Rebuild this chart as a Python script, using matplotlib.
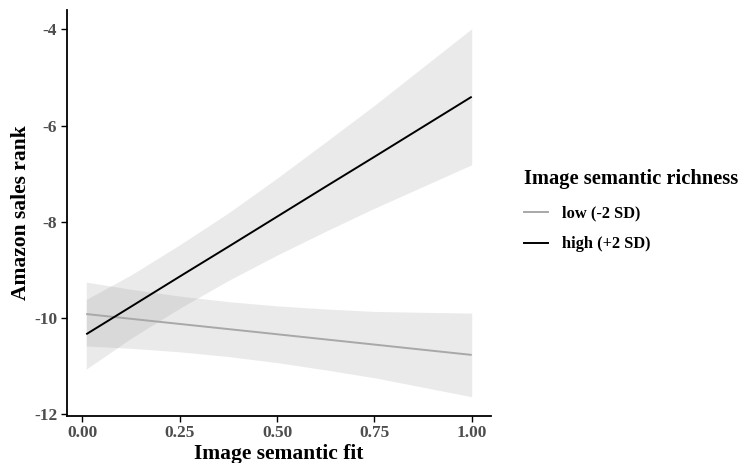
import matplotlib
matplotlib.use("Agg")
import matplotlib.pyplot as plt
from matplotlib.lines import Line2D

plt.rcParams['font.family'] = ['Liberation Serif', 'DejaVu Serif']

# Data
fit_x = [0.01, 0.125, 0.25, 0.375, 0.50, 0.625, 0.75, 0.875, 1.00]

low_fit = [-9.92, -10.019, -10.126, -10.233, -10.34, -10.448, -10.555, -10.663, -10.77]
low_lower = [-10.585, -10.633, -10.706, -10.804, -10.93, -11.082, -11.245, -11.442, -11.64]
low_upper = [-9.255, -9.405, -9.546, -9.662, -9.75, -9.814, -9.865, -9.884, -9.90]

high_fit = [-10.34, -9.766, -9.14, -8.52, -7.895, -7.27, -6.65, -6.025, -5.40]
high_lower = [-11.065, -10.425, -9.80, -9.223, -8.695, -8.199, -7.72, -7.268, -6.815]
high_upper = [-9.615, -9.107, -8.48, -7.817, -7.095, -6.341, -5.58, -4.782, -3.985]

series_labels = ["low (-2 SD)", "high (+2 SD)"]
line_colors = ["#A8A8A8", "#000000"]

x_ticks = [0.00, 0.25, 0.50, 0.75, 1.00]
x_tick_labels = ["0.00", "0.25", "0.50", "0.75", "1.00"]
y_ticks = [-12, -10, -8, -6, -4]
y_tick_labels = ["-12", "-10", "-8", "-6", "-4"]

fig = plt.figure(figsize=(7.4, 4.63), dpi=100)
ax = fig.add_axes([0.0905, 0.1021, 0.573, 0.8759])

ax.fill_between(fit_x, low_lower, low_upper, color="#999999", alpha=0.2, linewidth=0)
ax.fill_between(fit_x, high_lower, high_upper, color="#999999", alpha=0.2, linewidth=0)
ax.plot(fit_x, low_fit, color=line_colors[0], linewidth=1.4, solid_capstyle='butt')
ax.plot(fit_x, high_fit, color=line_colors[1], linewidth=1.4, solid_capstyle='butt')

ax.set_xlim(-0.0395, 1.0495)
ax.set_ylim(-12.035, -3.6)
ax.set_xticks(x_ticks)
ax.set_xticklabels(x_tick_labels)
ax.set_yticks(y_ticks)
ax.set_yticklabels(y_tick_labels)

for s in ['top', 'right']:
    ax.spines[s].set_visible(False)
for s in ['left', 'bottom']:
    ax.spines[s].set_linewidth(1.3)
    ax.spines[s].set_color('black')
ax.tick_params(axis='both', direction='out', length=4, width=1.0, color='black',
               labelsize=12.5, labelcolor='#4D4D4D', pad=3)
for lab in ax.get_xticklabels() + ax.get_yticklabels():
    lab.set_fontweight('bold')

ax.set_xlabel("Image semantic fit", fontsize=15.5, fontweight='bold', labelpad=2)
ax.set_ylabel("Amazon sales rank", fontsize=15.5, fontweight='bold', labelpad=2)

handles = [Line2D([0], [0], color=c, linewidth=1.4) for c in line_colors]
leg = fig.legend(handles, series_labels, title="Image semantic richness",
                 loc='center left', bbox_to_anchor=(0.688, 0.545), frameon=False,
                 prop={'weight': 'bold', 'size': 11.8},
                 title_fontproperties={'weight': 'bold', 'size': 14.8},
                 handlelength=1.5, handletextpad=0.85, labelspacing=0.9)
leg._legend_box.align = "left"
leg._legend_box.sep = 12

fig.savefig("out.png", dpi=100)
